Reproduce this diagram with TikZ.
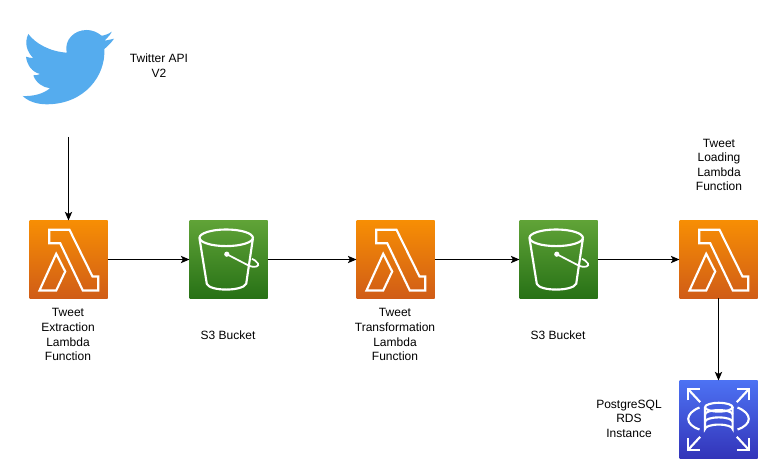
\documentclass[tikz,border=0pt]{standalone}
\usepackage{fontspec}
\setmainfont{Liberation Sans}
\usetikzlibrary{arrows.meta}
\definecolor{birdblue}{HTML}{55ACEE}
\tikzset{
  x=0.75pt,y=-0.75pt,
  iconbox/.style={rectangle,draw=none,minimum width=58.5pt,minimum height=58.5pt,inner sep=0pt,outer sep=0pt,anchor=north west},
  lambdabox/.style={iconbox,top color={rgb,255:red,247;green,142;blue,4},bottom color={rgb,255:red,208;green,92;blue,23}},
  bucketbox/.style={iconbox,top color={rgb,255:red,96;green,163;blue,55},bottom color={rgb,255:red,39;green,113;blue,22}},
  rdsbox/.style={iconbox,top color={rgb,255:red,77;green,114;blue,243},bottom color={rgb,255:red,51;green,52;blue,185}},
  glyph/.style={draw=white,line width=1.6pt,line join=miter,fill=none},
  caption/.style={align=center,font=\fontsize{9}{10.9}\selectfont,inner sep=0pt,text=black},
  flow/.style={draw=black,line width=0.75pt,-{Stealth[length=6.5pt,width=5.5pt,inset=1.6pt]}},
  lambdaicon/.pic={
    \draw[glyph] (19.7,9.3)--(40,9.3)--(63,56)--(68.7,56)--(68.7,70)--(53.3,70)--(30.7,22.7)--(19.7,22.7)--cycle;
    \draw[glyph] (10,70)--(26.7,33.3)--(35.7,51)--(26.7,70)--cycle;
  },
  bucketicon/.pic={
    \draw[glyph] (36.7,17.3) ellipse [x radius=26.7,y radius=8.3];
    \draw[glyph] (10,18)--(17.3,63.3) .. controls (20,71) and (53,71) .. (56.7,63.3)--(63.4,18);
    \fill[white] (37.3,33.7) circle [radius=2.6];
    \draw[glyph,line width=1.3pt] (37.3,33.7)--(59,45) .. controls (66,48) and (70,45.5) .. (68.5,43) .. controls (67,40.5) and (64,39) .. (62.5,38.3);
  },
  rdsicon/.pic={
    \draw[glyph] (25.5,26.7) arc [start angle=180,end angle=540,x radius=13.8,y radius=4.4];
    \draw[glyph] (25.5,26.7)--(25.5,48.5) arc [start angle=180,end angle=360,x radius=13.8,y radius=4.4]--(53.1,26.7);
    \draw[glyph] (25.5,34) arc [start angle=180,end angle=360,x radius=13.8,y radius=4.4];
    \draw[glyph] (25.5,41.3) arc [start angle=180,end angle=360,x radius=13.8,y radius=4.4];
    \draw[glyph] (20,27) .. controls (5,33) and (5,44) .. (20,49);
    \draw[glyph] (58,27) .. controls (73,33) and (73,44) .. (58,49);
    \foreach \sx/\ox in {1/0,-1/78}{\foreach \sy/\oy in {1/0,-1/78}{
      \draw[glyph] (\ox+\sx*8.3,\oy+\sy*20)--(\ox+\sx*8.3,\oy+\sy*8.3)--(\ox+\sx*20.7,\oy+\sy*8.3);
      \draw[glyph] (\ox+\sx*8.3,\oy+\sy*8.3)--(\ox+\sx*20.7,\oy+\sy*21.7);
    }}
  },
}
\begin{document}
\begin{tikzpicture}
\useasboundingbox (0,0) rectangle (758,459);
\fill[white] (0,0) rectangle (758,459);
% bird
\fill[birdblue] (22.7,96) .. controls (33,96.5) and (43,94) .. (50,88.3)
  .. controls (43,87.5) and (36,83) .. (33.3,75.3)
  .. controls (36,75.5) and (38,75) .. (40,74)
  .. controls (32,72) and (27,65) .. (26,56.7)
  .. controls (28,57.5) and (31,58) .. (33.3,58)
  .. controls (27,52) and (24,43) .. (28.3,34)
  .. controls (36,44) and (50,51.5) .. (66.7,52.7)
  .. controls (64,40) and (74,30) .. (86.7,30)
  .. controls (92,30) and (97,32) .. (101.7,35.7)
  .. controls (104,35.5) and (109,34) .. (111.7,31.7)
  .. controls (110.5,35) and (107,38) .. (104.3,40.7)
  .. controls (107,40.3) and (111,39.5) .. (114,38.7)
  .. controls (111,43) and (108,46) .. (104.3,49)
  .. controls (106,75) and (85,104.3) .. (46.7,104.3)
  .. controls (38,104.3) and (29,102) .. (22.7,96) -- cycle;
\coordinate (birdfoot) at (68.5,137);
\node[caption] (apilabel) at (159,65.5) {Twitter API\\V2};
% icons
\node[lambdabox] (extract) at (29.5,220.5) {};
\node[bucketbox] (bucketa) at (189.5,220.5) {};
\node[lambdabox] (transform) at (356.5,220.5) {};
\node[bucketbox] (bucketb) at (519.5,220.5) {};
\node[lambdabox] (load) at (679.5,220.5) {};
\node[rdsbox] (rds) at (679.5,380.5) {};
\pic at (extract.north west) {lambdaicon};
\pic at (transform.north west) {lambdaicon};
\pic at (load.north west) {lambdaicon};
\pic at (bucketa.north west) {bucketicon};
\pic at (bucketb.north west) {bucketicon};
\pic at (rds.north west) {rdsicon};
% labels
\node[caption] (extractlabel) at (68,334.7) {Tweet\\Extraction\\Lambda\\Function};
\node[caption] (bucketalabel) at (228,335) {S3 Bucket};
\node[caption] (transformlabel) at (395,334.7) {Tweet\\Transformation\\Lambda\\Function};
\node[caption] (bucketblabel) at (558,335) {S3 Bucket};
\node[caption] (loadlabel) at (719,165) {Tweet\\Loading\\Lambda\\Function};
\node[caption] (rdslabel) at (629,418.5) {PostgreSQL\\RDS\\Instance};
% connectors
\draw[flow] (birdfoot) -- (extract.north -| birdfoot);
\draw[flow] (extract) -- (bucketa);
\draw[flow] (bucketa) -- (transform);
\draw[flow] (transform) -- (bucketb);
\draw[flow] (bucketb) -- (load);
\draw[flow] (load) -- (rds);
\end{tikzpicture}
\end{document}
